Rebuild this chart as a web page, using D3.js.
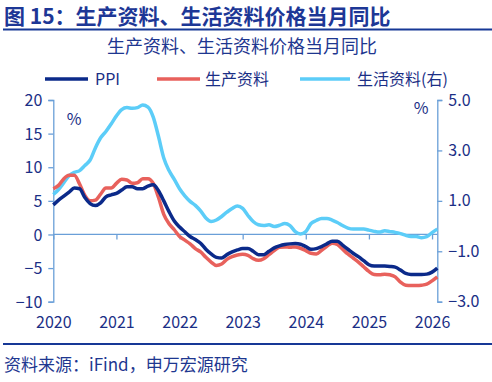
<!DOCTYPE html>
<html><head><meta charset="utf-8">
<script src="https://cdn.jsdelivr.net/npm/d3@7/dist/d3.min.js"></script>
<style>
html,body{margin:0;padding:0;background:#fff;}
svg text{font-family:"Noto Sans CJK SC","Noto Sans",sans-serif;}
</style></head>
<body><svg id="c" width="492" height="382"></svg>
<script>
// Monthly data, 2020-01 ... 2026-02
const years = ["2020","2021","2022","2023","2024","2025","2026"];
const ppi = [4.4,5.1,5.7,6.3,6.9,6.8,5.5,4.6,4.3,4.7,5.6,5.9,
  6.1,6.6,7.1,7.1,6.8,6.8,7.2,7.4,6.5,5.0,3.4,2.0,
  1.1,0.4,-0.3,-0.75,-1.3,-2.2,-2.9,-3.4,-3.5,-3.0,-2.6,-2.3,
  -2.1,-2.1,-2.5,-3.0,-3.0,-2.5,-2.0,-1.7,-1.5,-1.4,-1.35,-1.45,
  -1.8,-2.2,-2.1,-1.8,-1.4,-1.0,-1.0,-1.6,-2.2,-2.8,-3.3,-3.9,
  -4.5,-4.7,-4.7,-4.7,-4.75,-4.85,-5.3,-5.8,-5.95,-5.95,-5.95,-5.9,
  -5.6,-5.0];
const producer = [6.8,7.3,8.3,8.8,8.8,7.5,5.8,5.0,5.1,6.0,6.9,6.9,
  7.6,8.2,8.1,7.6,7.7,8.3,8.3,7.6,5.5,3.0,1.6,0.7,
  -0.3,-0.85,-1.4,-2.1,-2.6,-3.4,-4.1,-4.6,-4.4,-3.7,-3.3,-3.05,
  -2.95,-3.1,-3.6,-3.85,-3.6,-3.0,-2.4,-1.9,-1.85,-1.9,-1.85,-2.05,
  -2.4,-2.8,-2.9,-2.35,-1.75,-1.3,-1.5,-2.2,-2.9,-3.5,-4.1,-4.8,
  -5.5,-5.95,-6.0,-5.9,-6.0,-6.3,-7.1,-7.55,-7.6,-7.6,-7.55,-7.4,
  -6.9,-6.3];
const consumer = [1.25,1.45,1.72,2.0,2.13,2.2,2.4,2.62,3.1,3.5,3.75,4.05,
  4.37,4.62,4.70,4.67,4.70,4.80,4.72,4.32,3.55,2.7,2.2,1.85,
  1.48,1.2,0.98,0.82,0.6,0.32,0.18,0.24,0.38,0.55,0.7,0.8,
  0.7,0.42,0.18,0.05,0.02,0.05,-0.02,0.03,0.1,0.02,-0.22,-0.31,
  -0.22,0.1,0.22,0.3,0.3,0.24,0.14,0.02,-0.08,-0.12,-0.12,-0.12,
  -0.16,-0.21,-0.24,-0.19,-0.22,-0.25,-0.3,-0.37,-0.41,-0.41,-0.46,-0.42,
  -0.26,-0.12];
const leftTicks = [20,15,10,5,0,-5,-10];
const rightTicks = [5,3,1,-1,-3];
const seriesNames = ["PPI","生产资料","生活资料(右)"];

const navy = "#0b2a8a", red = "#e8615c", sky = "#5ccdf8";
const axisCol = "#6a9fd8", textCol = "#1b2f86";
const svg = d3.select("#c");

// Title
svg.append("text").attr("x",4).attr("y",24).attr("font-size",21).attr("font-weight","bold")
  .attr("fill","#1d3796").text("图 15：生产资料、生活资料价格当月同比");
svg.append("line").attr("x1",3).attr("x2",492).attr("y1",29.5).attr("y2",29.5)
  .attr("stroke","#163896").attr("stroke-width",2);
svg.append("text").attr("x",242).attr("y",53).attr("text-anchor","middle").attr("font-size",18)
  .attr("fill","#1e3790").text("生产资料、生活资料价格当月同比");

const x = d3.scaleLinear().domain([0,73]).range([53.3,437.3]);
const yL = d3.scaleLinear().domain([-10,20]).range([301.7,100]);
const yR = d3.scaleLinear().domain([-3,5]).range([301.7,100]);

// axes
const gL = svg.append("g").attr("transform",`translate(${x(0)},0)`)
  .call(d3.axisLeft(yL).tickValues(leftTicks).tickSize(5).tickPadding(6));
const gR = svg.append("g").attr("transform",`translate(${x(73)},0)`)
  .call(d3.axisRight(yR).tickValues(rightTicks).tickSize(5).tickPadding(6).tickFormat(d3.format(".1f")));
const gX = svg.append("g").attr("transform",`translate(0,${yL(0)})`)
  .call(d3.axisBottom(x).tickValues(d3.range(0,73,12)).tickSize(5).tickFormat((d,i)=>years[i]));
[gL,gR,gX].forEach(g=>{
  g.select(".domain").attr("stroke",axisCol).attr("stroke-width",1.3);
  g.selectAll(".tick line").attr("stroke",axisCol).attr("stroke-width",1.3);
  g.selectAll("text").attr("fill",textCol).attr("font-size",16);
});
gX.select(".domain").attr("d",`M${x(0)},0H${x(73)}`);
gX.selectAll(".tick text").attr("y",82).attr("dy","0.71em");
gL.selectAll(".tick text").attr("dy","0.35em");

// % labels
svg.append("text").attr("x",74).attr("y",125).attr("text-anchor","middle").attr("font-size",16).attr("fill",textCol).text("%");
svg.append("text").attr("x",421).attr("y",114).attr("text-anchor","middle").attr("font-size",16).attr("fill",textCol).text("%");

// lines
const lineL = d3.line().x((d,i)=>x(i)).y(d=>yL(d)).curve(d3.curveMonotoneX);
const lineR = d3.line().x((d,i)=>x(i)).y(d=>yR(d)).curve(d3.curveMonotoneX);
svg.append("path").datum(consumer).attr("d",lineR).attr("fill","none").attr("stroke",sky).attr("stroke-width",3.5).attr("stroke-linejoin","round");
svg.append("path").datum(producer).attr("d",lineL).attr("fill","none").attr("stroke",red).attr("stroke-width",3.5).attr("stroke-linejoin","round");
svg.append("path").datum(ppi).attr("d",lineL).attr("fill","none").attr("stroke",navy).attr("stroke-width",3.5).attr("stroke-linejoin","round");

// legend
const leg = [{c:navy,x1:45,x2:88,tx:95},{c:red,x1:157,x2:200,tx:205},{c:sky,x1:300,x2:350,tx:357}];
leg.forEach((l,i)=>{
  svg.append("line").attr("x1",l.x1).attr("x2",l.x2).attr("y1",79).attr("y2",79).attr("stroke",l.c).attr("stroke-width",3.5);
  svg.append("text").attr("x",l.tx).attr("y",85).attr("font-size",16).attr("fill",textCol).text(seriesNames[i]);
});

// source
svg.append("line").attr("x1",3).attr("x2",492).attr("y1",344).attr("y2",344).attr("stroke","#163896").attr("stroke-width",2);
svg.append("text").attr("x",4).attr("y",371).attr("font-size",17).attr("fill","#1e3790").text("资料来源：iFind，申万宏源研究");
</script></body></html>
